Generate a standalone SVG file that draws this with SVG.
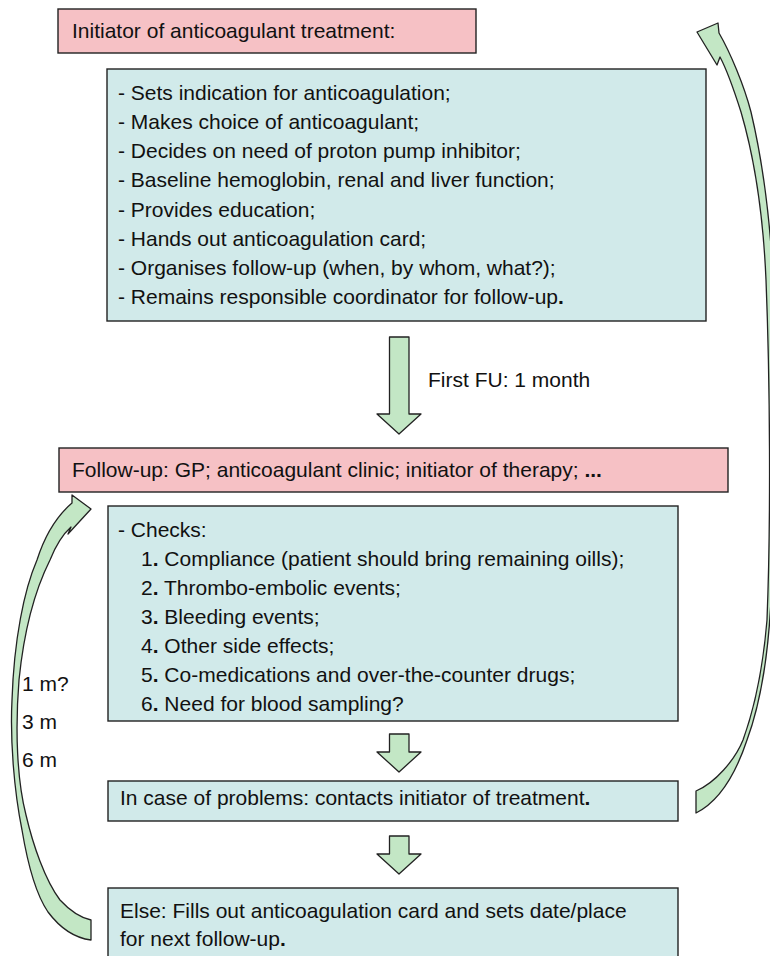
<svg xmlns="http://www.w3.org/2000/svg" width="770" height="956" viewBox="0 0 770 956">
<style>
text{font-family:"Liberation Sans",Arial,sans-serif;font-size:21px;fill:#111}
.pink{fill:#f6c1c5;stroke:#222;stroke-width:1.4}
.teal{fill:#d1eaea;stroke:#222;stroke-width:1.4}
.arr{fill:#c3e7c5;stroke:#222;stroke-width:1.3;stroke-linejoin:round}
.b{font-weight:bold}
</style>
<rect width="770" height="956" fill="#fff"/>
<g id="connectors">
<path class="arr" d="M389.5,337 H409 V414 H421 L399,434 L377,414 H389.5 Z"/>
<path class="arr" d="M389.5,734 H409 V752 H421 L399,772 L377,752 H389.5 Z"/>
<path class="arr" d="M389.5,836 H409 V854 H421 L399,874 L377,854 H389.5 Z"/>
<path id="loop-right" class="arr" d="M697,32 L718,23 L719,33 C730,52 744,85 751,112 C760,150 768,200 772,260 C776,350 776,500 771,600 C768,660 760,705 747,740 C737,770 722,800 696,813 L696,791 C715,783 735,760 743,740 C752,715 762,680 767,620 C771,520 770,380 766,280 C763,210 755,160 741,112 C734,90 728,72 720,57 L717,65 Z"/>
<path id="loop-left" class="arr" d="M72,495 L91,509 L68,534 L71,527 C62,535 56,545 50,560 C35,590 24,630 19,680 C15,730 17,780 26,815 C33,845 45,880 60,900 C72,913 82,918 91,920 L91,940 C75,938 60,928 48,912 C35,893 27,860 22,830 C14,790 10,740 12,700 C14,640 24,590 37,560 C45,535 58,515 72,503 Z"/>
</g>
<g id="n1">
<rect class="pink" x="58" y="9" width="418" height="44"/>
<text x="72" y="38">Initiator of anticoagulant treatment:</text>
</g>
<g id="n2">
<rect class="teal" x="107" y="69" width="599" height="252"/>
<text x="118" y="100">- Sets indication for anticoagulation;</text>
<text x="118" y="129">- Makes choice of anticoagulant;</text>
<text x="118" y="158">- Decides on need of proton pump inhibitor;</text>
<text x="118" y="187">- Baseline hemoglobin, renal and liver function;</text>
<text x="118" y="217">- Provides education;</text>
<text x="118" y="246">- Hands out anticoagulation card;</text>
<text x="118" y="275">- Organises follow-up (when, by whom, what?);</text>
<text x="118" y="304">- Remains responsible coordinator for follow-up<tspan class="b">.</tspan></text>
</g>
<g id="lbl-first">
<text x="428" y="387">First FU: 1 month</text>
</g>
<g id="n3">
<rect class="pink" x="59" y="448" width="669" height="44"/>
<text x="72" y="477">Follow-up: GP; anticoagulant clinic; initiator of therapy; <tspan class="b">...</tspan></text>
</g>
<g id="n4">
<rect class="teal" x="108" y="506" width="570" height="215"/>
<text x="118" y="537">- Checks:</text>
<text x="141" y="566">1<tspan class="b">.</tspan> Compliance (patient should bring remaining oills);</text>
<text x="141" y="595">2<tspan class="b">.</tspan> Thrombo-embolic events;</text>
<text x="141" y="624">3<tspan class="b">.</tspan> Bleeding events;</text>
<text x="141" y="653">4<tspan class="b">.</tspan> Other side effects;</text>
<text x="141" y="682">5<tspan class="b">.</tspan> Co-medications and over-the-counter drugs;</text>
<text x="141" y="711">6<tspan class="b">.</tspan> Need for blood sampling?</text>
</g>
<g id="lbl-intervals">
<text x="22" y="691">1 m?</text>
<text x="22" y="729">3 m</text>
<text x="22" y="767">6 m</text>
</g>
<g id="n5">
<rect class="teal" x="108" y="781" width="570" height="40"/>
<text x="120" y="805">In case of problems: contacts initiator of treatment<tspan class="b">.</tspan></text>
</g>
<g id="n6">
<rect class="teal" x="108" y="888" width="570" height="80"/>
<text x="120" y="918">Else: Fills out anticoagulation card and sets date/place</text>
<text x="120" y="946">for next follow-up<tspan class="b">.</tspan></text>
</g>
</svg>
